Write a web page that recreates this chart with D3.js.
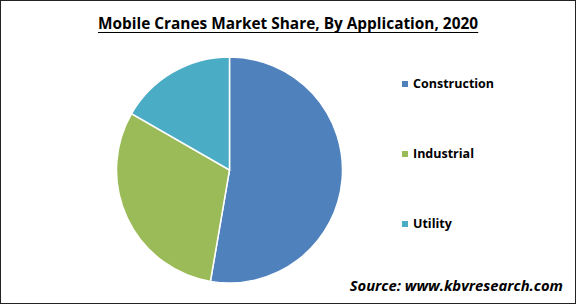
<!DOCTYPE html>
<html><head><meta charset="utf-8">
<script src="https://cdn.jsdelivr.net/npm/d3@7"></script>
<style>body{margin:0;background:#fff}svg{display:block}</style>
</head><body>
<script>
const categories = ["Construction", "Industrial", "Utility"];
const shares = [52.7, 30.6, 16.7];
const colors = ["#4F81BD", "#9BBB59", "#4BACC6"];
const titleText = "Mobile Cranes Market Share, By Application, 2020";
const sourceText = "Source: www.kbvresearch.com";

const W = 576, H = 304;
const svg = d3.select("body").append("svg").attr("width", W).attr("height", H);
svg.append("rect").attr("x", 0.5).attr("y", 0.5).attr("width", W - 1).attr("height", H - 1)
  .attr("fill", "#fff").attr("stroke", "#222").attr("stroke-width", 1);

const title = svg.append("text").attr("x", 288).attr("y", 29).attr("text-anchor", "middle")
  .attr("font-family", "'Open Sans', sans-serif").attr("font-weight", "bold").attr("font-size", 15.4)
  .attr("fill", "#000").text(titleText);
const tb = title.node().getBBox();
svg.append("line").attr("x1", tb.x).attr("x2", tb.x + tb.width).attr("y1", 32.5).attr("y2", 32.5)
  .attr("stroke", "#000").attr("stroke-width", 1.2);

const data = categories.map((c, i) => ({ c, v: shares[i], col: colors[i] }));
const pie = d3.pie().sort(null).value(d => d.v);
const arc = d3.arc().innerRadius(0).outerRadius(113);
const g = svg.append("g").attr("transform", "translate(229.5,170)");
g.selectAll("path").data(pie(data)).join("path")
  .attr("d", arc).attr("fill", d => d.data.col)
  .attr("stroke", "#fff").attr("stroke-width", 1.5);

const ly = d3.scalePoint().domain(categories).range([84, 224]);
const leg = svg.append("g");
leg.selectAll("rect").data(data).join("rect")
  .attr("x", 402).attr("y", d => ly(d.c) - 3).attr("width", 6).attr("height", 6)
  .attr("fill", d => d.col);
leg.selectAll("text").data(data).join("text")
  .attr("x", 413).attr("y", d => ly(d.c)).attr("dy", "0.35em")
  .attr("font-family", "'Open Sans', sans-serif").attr("font-weight", "bold").attr("font-size", 12.5)
  .attr("fill", "#000").text(d => d.c);

svg.append("text").attr("x", 563).attr("y", 291).attr("text-anchor", "end")
  .attr("font-family", "'Open Sans', sans-serif").attr("font-weight", "bold").attr("font-style", "italic")
  .attr("font-size", 14.8).attr("fill", "#000").text(sourceText);
</script>
</body></html>
